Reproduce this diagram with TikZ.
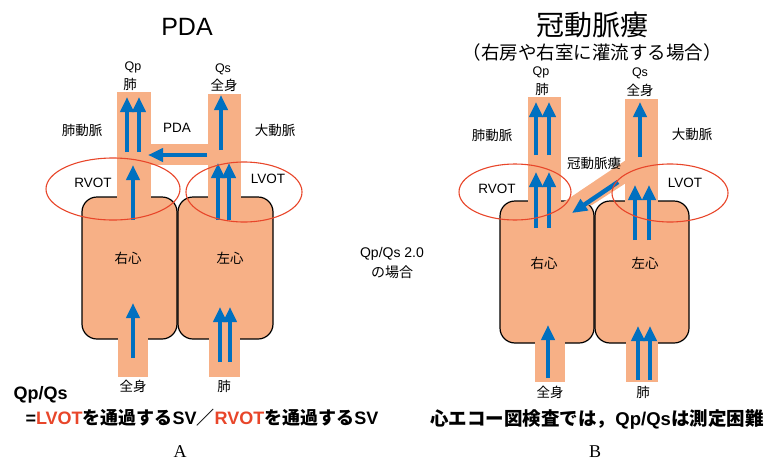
\documentclass[tikz,border=0pt]{standalone}
\usepackage{fontspec}
\setmainfont{Liberation Sans}
\newfontfamily\jp{Noto Sans CJK JP}
\newfontfamily\figletter{Liberation Serif}
\usetikzlibrary{arrows.meta}
\definecolor{peach}{HTML}{F7B086}
\definecolor{flowblue}{HTML}{0070C0}
\definecolor{ovred}{HTML}{E8462A}
\tikzset{
  heart/.style={fill=peach,draw=black,line width=1.2pt,rounded corners=15pt},
  vessel/.style={fill=peach},
  flow/.style={flowblue,line width=4.5pt,-{Triangle[width=13pt,length=15pt]}},
  otring/.style={ovred,line width=1.1pt},
  lbl/.style={font=\fontsize{13.5}{15}\selectfont\jp,inner sep=0pt},
  lat/.style={font=\fontsize{12.5}{15}\selectfont,inner sep=0pt},
  latb/.style={font=\fontsize{13.5}{15}\selectfont,inner sep=0pt},
}
\begin{document}
\begin{tikzpicture}[x=1pt,y=-1pt]
  \useasboundingbox (0,0) rectangle (764,461);
  % A: PDA
  \draw[heart] (82,197) rectangle (177,339);
  \draw[heart] (178,197) rectangle (273,339);
  \fill[vessel] (117,92) rectangle (151,200);
  \fill[vessel] (208,94) rectangle (241,200);
  \fill[vessel] (151,144) rectangle (208,165);
  \fill[vessel] (118,336) rectangle (148,377);
  \fill[vessel] (209,336) rectangle (240,377);
  \foreach \x in {127,139} \draw[flow] (\x,152) -- (\x,97);
  \draw[flow] (133,220) -- (133,165);
  \draw[flow] (221,150) -- (221,95);
  \foreach \x in {218,229} \draw[flow] (\x,220) -- (\x,163);
  \draw[flow] (207,155) -- (148,155);
  \draw[flow] (133,358) -- (133,303);
  \foreach \x in {220,230} \draw[flow] (\x,362) -- (\x,307);
  \draw[otring] (113,189) ellipse [x radius=67,y radius=31];
  \draw[otring] (244,192) ellipse [x radius=58,y radius=30];
  \node[font=\fontsize{25}{28}\selectfont] (titA) at (187,27) {PDA};
  \node[lat] (qpA) at (133,67) {Qp};
  \node[lbl] (lungA) at (130,84) {肺};
  \node[lat] (qsA) at (223,69) {Qs};
  \node[lbl] (bodyA) at (224,85) {全身};
  \node[lbl] (paA) at (82,130) {肺動脈};
  \node[latb] (pdaA) at (177,128) {PDA};
  \node[lbl] (aoA) at (275,130) {大動脈};
  \node[latb] (rvotA) at (93,183) {RVOT};
  \node[latb] (lvotA) at (268,179) {LVOT};
  \node[lbl] (rhA) at (128,258) {右心};
  \node[lbl] (lhA) at (230,258) {左心};
  \node[lbl] (ivcA) at (133,386) {全身};
  \node[lbl] (pvA) at (224,386) {肺};
  % B: coronary fistula
  \draw[heart] (500,201) rectangle (594,343);
  \draw[heart] (595,201) rectangle (689,343);
  \fill[vessel] (528,97) rectangle (561,205);
  \fill[vessel] (625,99) rectangle (658,205);
  \fill[vessel] (626,160) -- (626,183) -- (592,205) -- (562,205) -- (562,203) -- cycle;
  \fill[vessel] (535,340) rectangle (565,382);
  \fill[vessel] (626,340) rectangle (658,382);
  \foreach \x in {536,549} \draw[flow] (\x,155) -- (\x,102);
  \foreach \x in {536,549} \draw[flow] (\x,228) -- (\x,172);
  \draw[flow] (640,157) -- (640,102);
  \foreach \x in {635,649} \draw[flow] (\x,240) -- (\x,185);
  \draw[flow] (618,182) -- (572,213);
  \draw[flow] (548,378) -- (548,325);
  \foreach \x in {638,650} \draw[flow] (\x,380) -- (\x,326);
  \draw[otring] (515,192) ellipse [x radius=56,y radius=28];
  \draw[otring] (670,193) ellipse [x radius=58,y radius=29];
  \node[font=\fontsize{28}{30}\selectfont\jp] (titB) at (592,25) {冠動脈瘻};
  \node[font=\fontsize{18.5}{20}\selectfont\jp] (subB) at (592,52) {（右房や右室に灌流する場合）};
  \node[lat] (qpB) at (541,72) {Qp};
  \node[lbl] (lungB) at (542,89) {肺};
  \node[lat] (qsB) at (640,73) {Qs};
  \node[lbl] (bodyB) at (640,90) {全身};
  \node[lbl] (paB) at (492,135) {肺動脈};
  \node[lbl] (aoB) at (692,134) {大動脈};
  \node[lbl] (caf) at (594,163) {冠動脈瘻};
  \node[latb] (rvotB) at (497,189) {RVOT};
  \node[latb] (lvotB) at (685,183) {LVOT};
  \node[lbl] (rhB) at (544,263) {右心};
  \node[lbl] (lhB) at (645,263) {左心};
  \node[lbl] (ivcB) at (550,392) {全身};
  \node[lbl] (pvB) at (643,392) {肺};
  % notes
  \node[align=center,font=\fontsize{14}{20}\selectfont] (ratio) at (392,263) {Qp/Qs 2.0\\{\jp の場合}};
  \node[anchor=west,font=\fontsize{18}{20}\selectfont\bfseries] (fml1) at (10,395) {Qp/Qs};
  \node[anchor=west,font=\fontsize{18}{20}\selectfont\bfseries] (fml2) at (22,418)
    {=\textcolor{ovred}{LVOT}{\jp を通過する}SV{\jp ／}\textcolor{ovred}{RVOT}{\jp を通過する}SV};
  \node[font=\fontsize{18.5}{20}\selectfont\bfseries] (echo) at (597,420)
    {{\jp 心エコー図検査では，}Qp/Qs{\jp は測定困難}};
  \node[font=\fontsize{18}{20}\selectfont\figletter] (capA) at (180,452) {A};
  \node[font=\fontsize{18}{20}\selectfont\figletter] (capB) at (595,452) {B};
\end{tikzpicture}
\end{document}
